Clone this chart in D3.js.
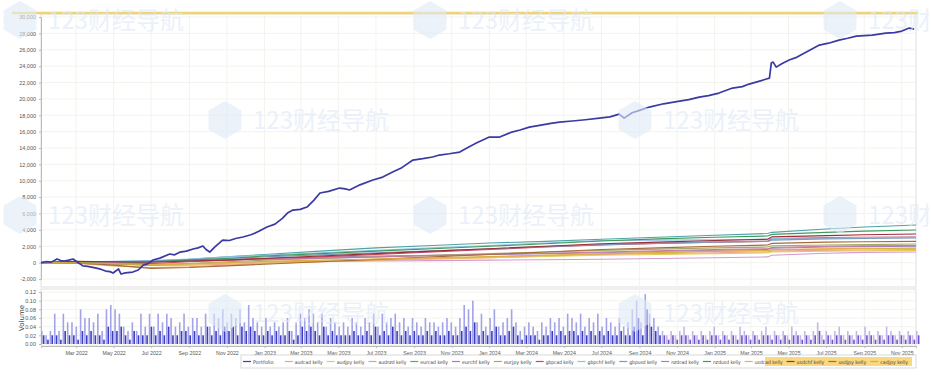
<!DOCTYPE html>
<html>
<head>
<meta charset="utf-8">
<script src="https://cdn.jsdelivr.net/npm/d3@7"></script>
<style>
  body { margin: 0; background: #fff; }
  svg { display: block; font-family: "DejaVu Sans", sans-serif; }
  .tick text { fill: #555; }
</style>
</head>
<body>
<div id="chart"></div>
<script>
// ---- data ----------------------------------------------------------
var portfolioDates = ["2022-01-03","2022-01-12","2022-01-20","2022-01-29","2022-02-04","2022-02-10","2022-02-17","2022-02-24",
  "2022-03-03","2022-03-12","2022-03-20","2022-04-01","2022-04-10","2022-04-18","2022-04-25","2022-04-30","2022-05-05",
  "2022-05-09","2022-05-13","2022-05-20","2022-06-01","2022-06-10","2022-06-18","2022-06-25","2022-07-04","2022-07-15",
  "2022-07-31","2022-08-08","2022-08-17","2022-08-27","2022-09-07","2022-09-15","2022-09-23","2022-09-28","2022-10-04",
  "2022-10-12","2022-10-25","2022-11-05","2022-11-15","2022-11-27","2022-12-10","2022-12-22","2023-01-05","2023-01-18",
  "2023-01-30","2023-02-08","2023-02-16","2023-02-28","2023-03-11","2023-03-22","2023-04-01","2023-04-15","2023-05-03",
  "2023-05-12","2023-05-19","2023-06-05","2023-06-26","2023-07-12","2023-07-28","2023-08-12","2023-08-30","2023-09-15",
  "2023-10-01","2023-10-12","2023-10-28","2023-11-14","2023-11-28","2023-12-11","2024-01-01","2024-01-18","2024-02-05",
  "2024-02-20","2024-03-06","2024-03-25","2024-04-10","2024-04-24","2024-05-15","2024-06-05","2024-06-28","2024-07-15",
  "2024-07-30","2024-08-07","2024-08-20","2024-09-01","2024-09-17","2024-10-10","2024-11-05","2024-11-20","2024-12-07",
  "2024-12-22","2025-01-08","2025-01-30","2025-02-15","2025-02-26","2025-03-12","2025-03-26","2025-03-31","2025-04-03",
  "2025-04-06","2025-04-11","2025-04-20","2025-05-02","2025-05-15","2025-05-30","2025-06-20","2025-07-05","2025-07-22",
  "2025-08-05","2025-08-19","2025-09-14","2025-10-06","2025-10-20","2025-11-01","2025-11-13","2025-11-21"];
var portfolioValues = [0,120,60,450,250,180,300,440,
  80,-400,-450,-650,-800,-1030,-1100,-1270,-1000,
  -780,-1390,-1250,-1150,-900,-300,-150,320,550,
  1050,950,1290,1400,1660,1800,2030,1600,1290,
  1900,2760,2700,2950,3130,3400,3800,4350,4700,
  5400,6100,6420,6500,6790,7600,8500,8700,9110,
  9000,8870,9500,10090,10450,11060,11600,12530,12700,
  12900,13140,13300,13500,14100,14600,15340,15340,15900,
  16200,16550,16800,17000,17170,17300,17450,17650,17800,
  18130,17650,18300,18600,19000,19400,19720,19900,20220,
  20400,20710,21320,21500,21810,22100,22420,22540,24370,
  24490,23880,24300,24740,25100,25720,26570,26800,27180,
  27400,27670,27790,28030,28100,28280,28650,28520];

var pairDates = ["2022-01-03","2022-03-01","2022-05-01","2022-07-01","2022-09-01","2022-11-01","2023-01-01",
  "2023-04-01","2023-07-01","2023-10-01","2024-01-01","2024-04-01","2024-07-01","2024-10-01","2025-01-01",
  "2025-03-28","2025-04-04","2025-07-01","2025-09-01","2025-11-24"];
var pairNames = ["audcad kelly","audjpy kelly","audnzd kelly","eurcad kelly","eurchf kelly","eurjpy kelly",
  "gbpcad kelly","gbpchf kelly","gbpusd kelly","nzdcad kelly","nzdusd kelly","usdcad kelly",
  "usdchf kelly","usdjpy kelly","cadjpy kelly"];
var audcad = [0,-30,-150,-350,-300,-200,-50,100,300,450,600,800,1000,1100,1200,1300,1400,1500,1550,1600];
var audjpy = [0,30,-50,-150,-200,-100,0,150,300,450,600,750,900,1000,1100,1200,1300,1400,1450,1500];
var audnzd = [0,0,-100,-200,-100,0,100,150,200,250,300,350,420,500,600,700,900,1150,1250,1290];
var eurcad = [0,100,50,200,400,700,1000,1400,1800,2100,2400,2600,2850,3100,3350,3550,3700,4100,4350,4590];
var eurchf = [0,50,100,150,250,400,500,650,800,900,1000,1100,1200,1350,1500,1600,1750,1900,1950,2000];
var eurjpy = [0,-50,-200,-300,-100,100,300,500,700,900,1100,1300,1500,1650,1800,1900,2050,2150,2200,2270];
var gbpcad = [0,100,0,-100,100,300,500,700,1000,1300,1600,1900,2150,2350,2500,2600,2900,3050,3100,3130];
var gbpchf = [0,80,150,250,450,700,900,1200,1500,1800,2100,2400,2700,2750,2800,2850,2950,3000,3050,3100];
var gbpusd = [0,60,120,200,350,500,700,950,1200,1450,1700,1950,2200,2350,2500,2600,2750,2900,2950,3000];
var nzdcad = [0,20,80,120,200,300,400,550,700,850,1000,1150,1300,1450,1600,1700,1850,2000,2050,2100];
var nzdusd = [0,50,-100,100,300,500,800,1100,1400,1700,2000,2300,2650,2900,3100,3250,3450,3700,3850,3980];
var usdcad = [0,-100,-400,-600,-500,-300,-100,100,300,500,700,900,1100,1250,1400,1500,1600,1700,1750,1780];
var usdchf = [0,150,100,50,200,300,500,800,1100,1400,1700,2000,2300,2500,2700,2850,3150,3300,3400,3500];
var usdjpy = [0,-50,-300,-700,-600,-400,-200,100,400,700,1000,1300,1600,1800,2000,2150,2350,2500,2550,2600];
var cadjpy = [0,-20,-100,-250,-150,0,150,300,450,600,750,900,1050,1200,1350,1450,1550,1650,1700,1750];
var pairValues = [audcad,audjpy,audnzd,eurcad,eurchf,eurjpy,gbpcad,gbpchf,gbpusd,nzdcad,nzdusd,usdcad,usdchf,usdjpy,cadjpy];
var pairColors = ["#ef9f94","#e4cc58","#d49ad0","#4fa3a5","#9b7fc8","#a9a862","#d0455a","#8fbfe0",
  "#7a9ac0","#c07aa0","#3f9a5f","#eda96a","#9b2c3a","#a86a3a","#d8b040"];

// weekly volume, first week starting 2022-01-03
var volStart = "2022-01-03";
var volLight = [0.03,0.02,0.03,0.07,0.03,0.07,0.05,0.05,0.04,
  0.08,0.06,0.06,0.05,0.07,0.03,0.08,0.09,0.08,
  0.07,0.04,0.03,0.05,0.03,0.07,0.04,0.07,
  0.04,0.07,0.05,0.07,0.06,0.04,0.05,0.07,0.04,
  0.06,0.06,0.04,0.07,0.04,0.07,0.06,0.08,0.05,
  0.07,0.06,0.08,0.05,0.09,0.06,0.05,0.04,
  0.06,0.04,0.05,0.04,0.05,0.06,0.03,0.05,0.07,
  0.06,0.08,0.07,0.05,0.07,0.04,0.06,0.05,0.04,
  0.05,0.04,0.06,0.05,0.04,0.06,0.05,0.07,0.04,
  0.07,0.05,0.06,0.07,0.05,0.06,0.04,0.06,0.05,
  0.04,0.06,0.05,0.05,0.04,0.05,0.06,0.05,0.04,
  0.06,0.09,0.08,0.10,0.05,0.07,0.04,0.06,
  0.08,0.04,0.05,0.06,0.08,0.05,0.03,0.04,0.05,
  0.04,0.03,0.05,0.04,0.06,0.05,0.06,0.04,0.07,
  0.06,0.05,0.07,0.04,0.06,0.05,0.07,0.04,
  0.06,0.05,0.04,0.06,0.04,0.05,0.08,0.10,0.05,
  0.115,0.07,0.06,0.04,
  0.03,0.02,0.03,0.02,0.03,0.04,0.02,0.03,0.02,0.03,
  0.02,0.03,0.04,0.02,0.03,0.02,0.03,0.02,0.04,0.03,
  0.02,0.03,0.02,0.03,0.04,0.02,0.03,0.02,0.03,0.02,
  0.04,0.03,0.02,0.03,0.02,0.03,0.05,0.02,0.03,0.02,
  0.03,0.04,0.02,0.03,0.02,0.03,0.02,0.04,0.03,0.02,
  0.03,0.02,0.04,0.03,0.02,0.03,0.02,0.03,0.02,0.03];
var volDark = [0.02,0.01,0.02,0.02,0.01,0.03,0.02,0.02,0.01,
  0.03,0.02,0.03,0.02,0.02,0.01,0.04,0.03,0.03,
  0.04,0.02,0.01,0.03,0.02,0.02,0.02,0.04,
  0.02,0.03,0.02,0.04,0.02,0.02,0.03,0.03,0.02,
  0.03,0.02,0.02,0.04,0.02,0.03,0.02,0.04,0.03,
  0.04,0.02,0.04,0.03,0.04,0.03,0.02,0.02,
  0.03,0.02,0.03,0.02,0.02,0.03,0.01,0.02,0.04,
  0.03,0.04,0.03,0.02,0.04,0.02,0.03,0.02,0.02,
  0.02,0.02,0.03,0.02,0.02,0.03,0.02,0.04,0.02,
  0.03,0.02,0.04,0.03,0.02,0.03,0.02,0.03,0.02,
  0.02,0.03,0.02,0.03,0.02,0.02,0.03,0.02,0.02,
  0.03,0.04,0.03,0.05,0.02,0.03,0.02,0.03,
  0.04,0.02,0.02,0.03,0.04,0.02,0.01,0.02,0.02,
  0.02,0.01,0.02,0.02,0.03,0.02,0.03,0.02,0.03,
  0.03,0.02,0.03,0.02,0.03,0.02,0.03,0.02,
  0.03,0.02,0.02,0.03,0.02,0.02,0.04,0.06,0.02,
  0.08,0.04,0.03,0.02,
  0.02,0.01,0.02,0.01,0.02,0.02,0.01,0.02,0.01,0.02,
  0.01,0.02,0.02,0.01,0.02,0.01,0.02,0.01,0.02,0.02,
  0.01,0.02,0.01,0.02,0.02,0.01,0.02,0.01,0.02,0.01,
  0.02,0.02,0.01,0.02,0.01,0.02,0.03,0.01,0.02,0.01,
  0.02,0.02,0.01,0.02,0.01,0.02,0.01,0.02,0.02,0.01,
  0.02,0.01,0.02,0.02,0.01,0.02,0.01,0.02,0.01,0.02];

var yTicks = [-2000,0,2000,4000,6000,8000,10000,12000,14000,16000,18000,20000,22000,24000,26000,28000,30000];
var volTicks = [0,0.02,0.04,0.06,0.08,0.10,0.12];
var watermarkText = "123财经导航";

// ---- layout --------------------------------------------------------
var width = 931, height = 375;
var parse = d3.timeParse("%Y-%m-%d");
var svg = d3.select("#chart").append("svg").attr("width", width).attr("height", height);

var x = d3.scaleTime()
    .domain([parse("2022-01-03"), parse("2025-11-24")])
    .range([41, 916]);
var y = d3.scaleLinear().domain([-2000, 30000]).range([279, 17]);
var yv = d3.scaleLinear().domain([0, 0.12]).range([344, 292]);

var fmt = d3.format(",");

// panel frames
svg.append("rect").attr("x", 41).attr("y", 14).attr("width", 875).attr("height", 273)
    .attr("fill", "#fff").attr("stroke", "#d8d8d8").attr("stroke-width", 0.8);
svg.append("rect").attr("x", 41).attr("y", 289).attr("width", 875).attr("height", 57)
    .attr("fill", "#fff").attr("stroke", "#d8d8d8").attr("stroke-width", 0.8);

var monthTicks = x.ticks(d3.timeMonth.every(2));

// grid
svg.append("g").selectAll("line").data(yTicks).enter().append("line")
    .attr("x1", 41).attr("x2", 916)
    .attr("y1", function(d) { return y(d); }).attr("y2", function(d) { return y(d); })
    .attr("stroke", "#f0f0ea").attr("stroke-width", 0.8);
svg.append("g").selectAll("line").data(monthTicks).enter().append("line")
    .attr("x1", function(d) { return x(d); }).attr("x2", function(d) { return x(d); })
    .attr("y1", 14).attr("y2", 287)
    .attr("stroke", "#f0f0ea").attr("stroke-width", 0.8);
svg.append("g").selectAll("line").data(volTicks).enter().append("line")
    .attr("x1", 41).attr("x2", 916)
    .attr("y1", function(d) { return yv(d); }).attr("y2", function(d) { return yv(d); })
    .attr("stroke", "#f0f0ea").attr("stroke-width", 0.8);
svg.append("g").selectAll("line").data(monthTicks).enter().append("line")
    .attr("x1", function(d) { return x(d); }).attr("x2", function(d) { return x(d); })
    .attr("y1", 289).attr("y2", 346)
    .attr("stroke", "#f0f0ea").attr("stroke-width", 0.8);

// axes
var yAxis = svg.append("g").attr("transform", "translate(41,0)")
    .call(d3.axisLeft(y).tickValues(yTicks).tickSize(2).tickFormat(function(d) { return fmt(d).replace("−", "-"); }));
yAxis.selectAll("text").style("font-size", "5.5px");
yAxis.select(".domain").attr("stroke", "#bbb");
yAxis.selectAll(".tick line").attr("stroke", "#bbb");

var vAxis = svg.append("g").attr("transform", "translate(41,0)")
    .call(d3.axisLeft(yv).tickValues(volTicks).tickSize(2).tickFormat(d3.format(".2f")));
vAxis.selectAll("text").style("font-size", "5.5px");
vAxis.select(".domain").attr("stroke", "#bbb");
vAxis.selectAll(".tick line").attr("stroke", "#bbb");

var xAxis = svg.append("g").attr("transform", "translate(0,346)")
    .call(d3.axisBottom(x).tickValues(monthTicks).tickSize(2).tickFormat(d3.timeFormat("%b %Y")));
xAxis.selectAll("text").style("font-size", "5.3px");
xAxis.select(".domain").attr("stroke", "#bbb");
xAxis.selectAll(".tick line").attr("stroke", "#bbb");

svg.append("text").attr("transform", "translate(24,318) rotate(-90)")
    .attr("text-anchor", "middle").style("font-size", "7px").attr("fill", "#444").text("Volume");

// volume bars
var late = parse("2024-10-01");
var volData = volLight.map(function(v, i) {
  var d = d3.timeDay.offset(parse(volStart), i * 7);
  return { date: d, light: v, dark: volDark[i] };
});
svg.append("g").selectAll("rect").data(volData).enter().append("rect")
    .attr("x", function(d) { return x(d.date); })
    .attr("y", function(d) { return yv(d.light); })
    .attr("width", 1.6)
    .attr("height", function(d) { return yv(0) - yv(d.light); })
    .attr("fill", function(d) { return d.date < late ? "#a3a3e8" : "#c8b6ea"; });
svg.append("g").selectAll("rect").data(volData).enter().append("rect")
    .attr("x", function(d) { return x(d3.timeDay.offset(d.date, 3)); })
    .attr("y", function(d) { return yv(d.dark); })
    .attr("width", 1.6)
    .attr("height", function(d) { return yv(0) - yv(d.dark); })
    .attr("fill", function(d) { return d.date < late ? "#3d3dc4" : "#6a58c8"; });

// pair lines
var line = d3.line()
    .x(function(d) { return x(d.date); })
    .y(function(d) { return y(d.value); });

pairValues.forEach(function(vals, k) {
  var pts = vals.map(function(v, i) { return { date: parse(pairDates[i]), value: v }; });
  svg.append("path").datum(pts)
      .attr("d", line)
      .attr("fill", "none")
      .attr("stroke", pairColors[k])
      .attr("stroke-width", 1.1);
});

// portfolio line
var pf = portfolioValues.map(function(v, i) { return { date: parse(portfolioDates[i]), value: v }; });
svg.append("path").datum(pf)
    .attr("d", line)
    .attr("fill", "none")
    .attr("stroke", "#3a3aa2")
    .attr("stroke-width", 1.7)
    .attr("stroke-linejoin", "round");

// yellow top line
svg.append("line").attr("x1", 12).attr("x2", 918).attr("y1", 13).attr("y2", 13)
    .attr("stroke", "#f0d470").attr("stroke-width", 2.5);

// legend
var legend = svg.append("g");
legend.append("rect").attr("x", 241).attr("y", 355).attr("width", 675).attr("height", 13)
    .attr("fill", "#fff").attr("stroke", "#cfcfcf").attr("stroke-width", 0.8);
legend.append("rect").attr("x", 765).attr("y", 357).attr("width", 147).attr("height", 9)
    .attr("fill", "#f6c84a").attr("opacity", 0.7);
var names = ["Portfolio"].concat(pairNames);
var colors = ["#3a3ac0"].concat(pairColors);
var itemW = (912 - 243) / names.length;
names.forEach(function(n, i) {
  var lx = 243 + i * itemW;
  legend.append("line").attr("x1", lx).attr("x2", lx + 8).attr("y1", 361.5).attr("y2", 361.5)
      .attr("stroke", colors[i]).attr("stroke-width", 1.2);
  var t = legend.append("text").attr("x", lx + 10).attr("y", 363.5)
      .style("font-size", "5px").attr("fill", "#444").text(n);
  var maxW = itemW - 14;
  if (t.node().getComputedTextLength() > maxW) {
    t.attr("textLength", maxW).attr("lengthAdjust", "spacingAndGlyphs");
  }
});

// watermarks (clipped to the page)
svg.append("clipPath").attr("id", "page").append("rect")
    .attr("x", 0).attr("y", 0).attr("width", width - 2).attr("height", height);
var marks = [[0,20],[410,20],[820,20],[205,120],[615,120],[0,215],[410,215],[820,215],[205,313],[615,313]];
var wm = svg.append("g").attr("pointer-events", "none").attr("clip-path", "url(#page)");
marks.forEach(function(m) {
  var cx = m[0] + 20, cy = m[1];
  var hex = d3.range(6).map(function(i) {
    var a = Math.PI / 3 * i + Math.PI / 6;
    return [cx + 19 * Math.cos(a), cy + 19 * Math.sin(a)];
  });
  wm.append("path").attr("d", "M" + hex.join("L") + "Z")
      .attr("fill", "#dfe9f7").attr("opacity", 0.6);
  var txt = m[0] + 48 + 140 > width ? "123财" : watermarkText;
  wm.append("text").attr("x", m[0] + 48).attr("y", cy + 9)
      .style("font-family", "'Noto Sans CJK SC', sans-serif").style("font-size", "24px")
      .attr("fill", "#dfe9f7").attr("opacity", 0.6).text(txt);
});
</script>
</body>
</html>
